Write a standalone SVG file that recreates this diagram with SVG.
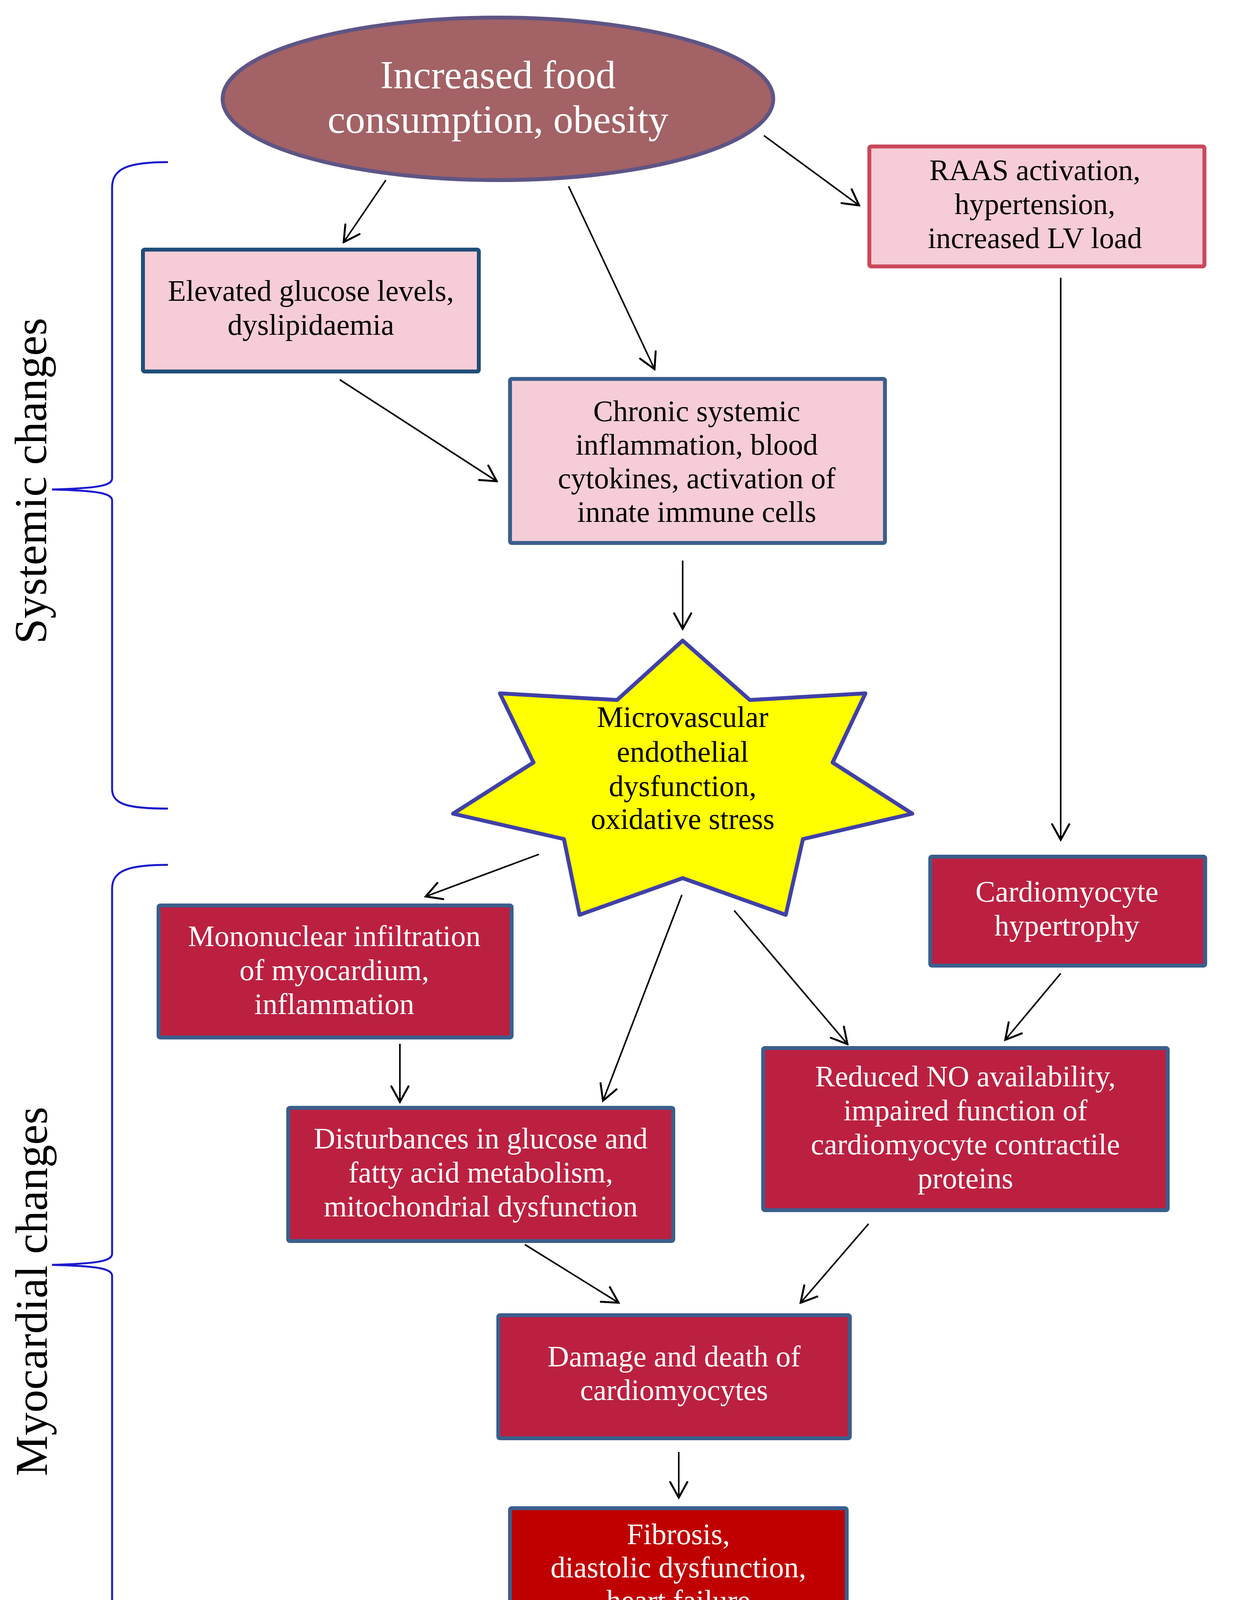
<svg xmlns="http://www.w3.org/2000/svg" width="3170" height="4326" viewBox="0 0 3170 4326">
<style>
.t{font-family:"Liberation Serif","Times New Roman",serif;font-size:76px;text-anchor:middle}
.dk{fill:#000}
.wh{fill:#fff}
.pink{fill:#F6CCD6}
.red{fill:#BC2040;stroke:#3B5E8C;stroke-width:10}
.conn line{stroke:#000;stroke-width:4;fill:none;marker-end:url(#ah)}
.br{fill:none;stroke:#1A1ACC;stroke-width:5}
.lab{font-family:"Liberation Serif","Times New Roman",serif;font-size:117px;text-anchor:middle;fill:#000}
</style>
<defs>
<marker id="ah" markerUnits="userSpaceOnUse" viewBox="0 0 50 50" refX="46" refY="25" markerWidth="50" markerHeight="50" orient="auto">
<path d="M6,3 L46,25 L6,47" fill="none" stroke="#000" stroke-width="5" stroke-linecap="round"/>
</marker>
</defs>
<rect width="3170" height="4326" fill="#fff"/>

<g id="bracket-systemic">
<path class="br" d="M430,415 C330,415 287,430 287,480 L287,1225 C287,1245 240,1250 133,1253 C240,1256 287,1261 287,1281 L287,2020 C287,2060 330,2070 430,2070"/>
<text class="lab" transform="translate(118,1231) rotate(-90)">Systemic changes</text>
</g>
<g id="bracket-myocardial">
<path class="br" d="M430,2214 C330,2214 287,2228 287,2275 L287,3210 C287,3230 240,3235 133,3238 C240,3241 287,3246 287,3266 L287,4205 C287,4245 330,4255 430,4255"/>
<text class="lab" transform="translate(120,3306) rotate(-90)">Myocardial changes</text>
</g>

<g id="node-obesity">
<ellipse cx="1275" cy="253" rx="705" ry="208" fill="#A36265" stroke="#5E5585" stroke-width="10"/>
<text class="t wh" style="font-size:102px" x="1275" y="226">Increased food</text>
<text class="t wh" style="font-size:102px" x="1275" y="340">consumption, obesity</text>
</g>

<g id="node-glucose">
<rect x="366" y="639" width="860" height="312" rx="4" class="pink" stroke="#1F4E79" stroke-width="10"/>
<text class="t dk" x="796" y="770">Elevated glucose levels,</text>
<text class="t dk" x="796" y="857">dyslipidaemia</text>
</g>

<g id="node-raas">
<rect x="2226" y="375" width="858" height="307" rx="4" class="pink" stroke="#C9485B" stroke-width="10"/>
<text class="t dk" x="2650" y="461">RAAS activation,</text>
<text class="t dk" x="2650" y="548">hypertension,</text>
<text class="t dk" x="2650" y="635">increased LV load</text>
</g>

<g id="node-inflammation">
<rect x="1306" y="970" width="960" height="420" rx="4" class="pink" stroke="#3B5E8C" stroke-width="10"/>
<text class="t dk" x="1784" y="1078">Chronic systemic</text>
<text class="t dk" x="1784" y="1164">inflammation, blood</text>
<text class="t dk" x="1784" y="1250">cytokines, activation of</text>
<text class="t dk" x="1784" y="1336">innate immune cells</text>
</g>

<g id="node-endothelial">
<polygon points="1748,1640 1920,1792 2216,1775 2132,1952 2336,2083 2056,2148 2012,2342 1748,2248 1484,2342 1444,2148 1160,2083 1366,1952 1280,1775 1580,1792" fill="#FFFF00" stroke="#4040A8" stroke-width="10" stroke-linejoin="round"/>
<text class="t dk" x="1748" y="1861">Microvascular</text>
<text class="t dk" x="1748" y="1950">endothelial</text>
<text class="t dk" x="1748" y="2038">dysfunction,</text>
<text class="t dk" x="1748" y="2122">oxidative stress</text>
</g>

<g id="node-hypertrophy">
<rect x="2382" y="2193" width="704" height="279" rx="4" class="red"/>
<text class="t wh" x="2732" y="2308">Cardiomyocyte</text>
<text class="t wh" x="2732" y="2395">hypertrophy</text>
</g>

<g id="node-mononuclear">
<rect x="406" y="2318" width="904" height="338" rx="4" class="red"/>
<text class="t wh" x="856" y="2422">Mononuclear infiltration</text>
<text class="t wh" x="856" y="2509">of myocardium,</text>
<text class="t wh" x="856" y="2596">inflammation</text>
</g>

<g id="node-metabolism">
<rect x="738" y="2836" width="986" height="341" rx="4" class="red"/>
<text class="t wh" x="1231" y="2940">Disturbances in glucose and</text>
<text class="t wh" x="1231" y="3027">fatty acid metabolism,</text>
<text class="t wh" x="1231" y="3114">mitochondrial dysfunction</text>
</g>

<g id="node-no">
<rect x="1954" y="2683" width="1036" height="415" rx="4" class="red"/>
<text class="t wh" x="2472" y="2781">Reduced NO availability,</text>
<text class="t wh" x="2472" y="2868">impaired function of</text>
<text class="t wh" x="2472" y="2955">cardiomyocyte contractile</text>
<text class="t wh" x="2472" y="3042">proteins</text>
</g>

<g id="node-damage">
<rect x="1276" y="3367" width="900" height="315" rx="4" class="red"/>
<text class="t wh" x="1726" y="3498">Damage and death of</text>
<text class="t wh" x="1726" y="3584">cardiomyocytes</text>
</g>

<g id="node-fibrosis">
<rect x="1306" y="3861" width="862" height="319" rx="4" fill="#C00000" stroke="#3B5E8C" stroke-width="10"/>
<text class="t wh" x="1737" y="3953">Fibrosis,</text>
<text class="t wh" x="1737" y="4038">diastolic dysfunction,</text>
<text class="t wh" x="1737" y="4123">heart failure</text>
</g>

<g id="connectors" class="conn">
<line x1="988" y1="461" x2="880" y2="620"/>
<line x1="1456" y1="477" x2="1676" y2="945"/>
<line x1="1956" y1="347" x2="2200" y2="526"/>
<line x1="870" y1="972" x2="1272" y2="1232"/>
<line x1="2716" y1="711" x2="2716" y2="2150"/>
<line x1="1748" y1="1435" x2="1748" y2="1610"/>
<line x1="1380" y1="2187" x2="1090" y2="2295"/>
<line x1="1746" y1="2291" x2="1544" y2="2818"/>
<line x1="1880" y1="2331" x2="2170" y2="2673"/>
<line x1="2716" y1="2492" x2="2574" y2="2662"/>
<line x1="1024" y1="2672" x2="1024" y2="2821"/>
<line x1="1344" y1="3186" x2="1584" y2="3335"/>
<line x1="2224" y1="3133" x2="2050" y2="3335"/>
<line x1="1738" y1="3717" x2="1738" y2="3834"/>
</g>
</svg>
